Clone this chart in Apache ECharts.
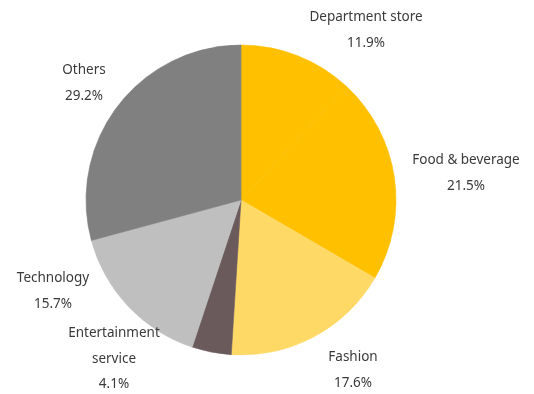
<!DOCTYPE html>
<html>
<head>
<meta charset="utf-8">
<script src="https://cdn.jsdelivr.net/npm/echarts@6/dist/echarts.min.js"></script>
<style>
  html, body { margin: 0; padding: 0; background: #fff; }
  #chart { width: 534px; height: 394px; }
</style>
</head>
<body>
<div id="chart"></div>
<script>
// Segment names and their shares (%)
const categories = ['Department store', 'Food & beverage', 'Fashion', 'Entertainment\nservice', 'Technology', 'Others'];
const shares = [11.9, 21.5, 17.6, 4.1, 15.7, 29.2];
const colors = ['#FFC000', '#FFC000', '#FFD966', '#6B5A5C', '#BFBFBF', '#808080'];

// Label anchor points (centre of each two/three-line label block)
const labelAnchors = [[366, 30], [466, 173], [353, 370], [114, 359], [53, 291], [84, 83]];

const chart = echarts.init(document.getElementById('chart'), null, { renderer: 'canvas' });

chart.setOption({
  backgroundColor: '#ffffff',
  animation: false,
  series: [{
    type: 'pie',
    center: [241, 200],
    radius: 155,
    startAngle: 90,
    clockwise: true,
    avoidLabelOverlap: false,
    data: categories.map((name, i) => ({
      name: name,
      value: shares[i],
      // border in the fill colour hides the anti-aliasing seam between sectors
      itemStyle: { color: colors[i], borderColor: colors[i], borderWidth: 0.6 }
    })),
    label: {
      show: true,
      position: 'outside',
      formatter: p => p.name + '\n' + p.value.toFixed(1) + '%',
      fontFamily: 'Noto Sans',
      fontSize: 13.5,
      color: '#3a3a3a',
      lineHeight: 25.5,
      align: 'center'
    },
    labelLine: { show: false },
    labelLayout: p => ({
      x: labelAnchors[p.dataIndex][0],
      y: labelAnchors[p.dataIndex][1],
      align: 'center',
      verticalAlign: 'middle'
    })
  }]
});
</script>
</body>
</html>
